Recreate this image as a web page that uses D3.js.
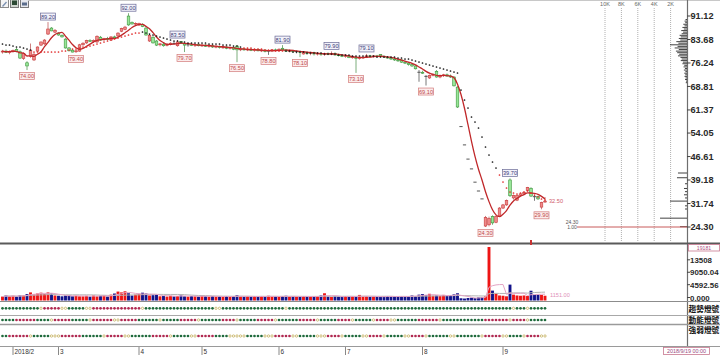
<!DOCTYPE html>
<html><head><meta charset="utf-8">
<script src="https://cdn.jsdelivr.net/npm/d3@7"></script>
<style>body{margin:0;background:#fff;overflow:hidden}svg{display:block;font-family:"Liberation Sans",Arial,sans-serif}</style>
</head><body><svg id="c" width="720" height="355"></svg>
<script>
// ---------- DATA ----------
const opens=[79.7,80.0,79.6,79.9,80.5,79.8,77.6,76.3,78.3,77.2,80.0,81.9,82.3,85.4,87.3,86.0,85.7,85.0,83.8,81.0,80.3,79.8,80.0,82.0,82.6,83.3,83.1,82.9,84.4,83.6,84.0,83.5,84.5,84.8,86.3,86.9,91.1,89.0,88.6,88.3,88.5,87.3,83.2,84.4,83.2,82.0,82.2,81.8,82.2,82.5,81.7,83.0,82.3,81.9,82.0,81.8,82.1,81.7,81.9,81.5,81.7,81.3,81.5,81.1,81.3,80.9,81.1,81.6,80.4,80.7,80.4,80.6,80.2,80.5,80.1,80.3,79.9,80.0,80.4,80.2,80.9,80.4,80.0,80.2,79.8,79.9,79.1,79.6,79.3,79.5,79.1,79.3,78.9,79.2,79.0,79.3,78.8,78.6,78.3,78.5,77.9,78.0,77.6,77.9,78.0,78.5,78.3,78.5,78.9,78.4,78.1,77.8,77.5,77.2,77.2,76.5,76.2,75.7,75.3,73.3,73.3,72.0,71.5,72.3,73.6,71.8,72.3,72.5,72.1,71.8,68.6,56.1,50.3,45.8,42.7,38.5,35.7,33.2,24.6,25.0,27.6,25.8,27.8,30.3,31.3,39.2,33.5,32.8,34.3,34.8,35.8,36.5,33.9,33.9,30.6,32.2];
const highs=[80.4,80.5,80.2,80.5,81.0,80.2,79.6,76.8,82.4,79.5,81.5,83.0,83.8,89.2,87.6,87.0,86.0,85.3,84.1,81.3,80.6,80.3,82.3,82.8,83.6,83.8,83.7,85.0,84.8,84.2,84.5,84.7,84.9,86.0,87.4,88.0,92.0,89.4,89.1,89.0,88.8,87.6,85.4,84.7,83.5,82.6,82.6,82.5,82.8,83.0,83.5,83.2,82.6,82.4,82.5,82.3,82.4,82.2,82.3,82.0,82.1,81.8,81.8,81.6,81.6,81.4,81.4,81.9,81.0,81.0,80.9,80.9,80.7,80.8,80.6,80.6,80.2,80.6,80.8,80.9,81.9,80.7,80.5,80.4,80.2,80.1,79.8,80.0,79.8,79.8,79.6,79.6,79.5,79.6,79.9,79.6,79.2,79.0,78.8,78.7,78.4,78.3,78.1,78.3,79.1,78.8,78.7,78.8,79.0,78.6,78.4,78.1,77.8,77.5,77.4,76.9,76.5,76.0,75.5,74.0,73.8,72.4,72.6,73.0,74.0,72.6,72.8,72.9,72.6,72.0,68.9,56.1,50.3,45.8,42.7,38.5,35.7,33.2,27.8,27.6,28.0,28.0,30.6,31.6,33.0,39.7,34.6,34.5,35.0,35.6,37.0,36.9,34.4,34.2,32.3,33.8];
const lows=[79.2,79.4,79.0,79.5,79.6,77.5,77.2,74.0,77.9,76.9,79.7,81.6,82.0,85.1,86.3,85.7,84.9,84.3,80.8,79.9,79.6,79.4,79.8,81.7,82.3,82.9,82.7,82.6,83.3,83.2,83.4,83.3,83.9,84.5,86.0,86.6,88.0,88.4,88.0,88.0,87.6,84.9,82.9,82.4,81.6,81.5,81.4,81.5,81.8,82.1,81.4,82.3,79.7,81.4,81.6,81.3,81.5,81.3,81.3,81.1,81.0,80.9,80.8,80.7,80.6,80.5,80.3,76.5,80.0,80.1,80.0,80.0,79.8,79.9,79.7,79.6,78.8,79.7,80.0,79.9,80.3,79.8,79.6,79.5,79.3,78.1,78.9,78.8,78.7,78.6,78.6,78.5,78.5,78.7,78.7,78.5,78.3,78.1,77.9,77.8,77.6,73.1,77.3,77.5,77.8,78.0,77.9,78.0,78.2,77.9,77.6,77.2,76.9,76.6,76.3,75.9,75.4,75.0,74.2,70.3,72.8,69.1,71.2,72.0,71.6,71.4,71.8,71.9,71.5,68.8,62.0,56.1,50.3,45.8,42.7,38.5,35.7,33.2,24.3,24.5,25.0,25.5,27.6,30.0,31.0,33.8,33.0,32.5,34.0,34.5,35.6,33.8,32.6,32.9,29.9,32.0];
const closes=[80.0,79.6,79.9,80.2,79.8,77.8,79.2,75.3,80.3,79.0,81.3,82.9,83.5,87.0,86.4,86.6,85.1,84.5,81.0,80.1,79.7,80.1,82.0,82.5,83.3,83.1,83.4,84.7,83.5,84.0,83.7,84.5,84.2,85.7,87.2,87.6,88.3,88.6,88.8,88.8,87.8,85.1,85.0,82.6,81.9,82.3,81.7,82.2,82.5,82.4,82.9,82.5,81.9,82.0,81.8,82.1,81.7,81.9,81.5,81.7,81.3,81.5,81.1,81.3,80.9,81.1,80.6,80.4,80.7,80.4,80.6,80.2,80.5,80.1,80.3,79.9,80.0,80.4,80.2,80.6,80.4,80.0,80.2,79.8,79.9,79.6,79.6,79.3,79.5,79.1,79.3,78.9,79.2,79.0,79.3,78.8,78.6,78.3,78.5,77.9,78.2,77.6,77.9,78.1,78.5,78.3,78.5,78.2,78.4,78.1,77.8,77.5,77.2,76.9,76.5,76.2,75.7,75.3,74.4,73.3,73.0,72.0,72.3,72.6,71.8,72.3,72.5,72.1,71.8,69.0,62.3,56.1,50.3,45.8,42.7,38.5,35.7,33.2,27.3,27.0,25.6,27.6,30.3,31.3,32.7,34.2,34.3,34.3,34.8,35.3,36.8,34.1,33.9,33.2,32.0,32.5];
const volumes=[1400,1800,1500,1700,1400,1900,1800,2300,2900,2200,2500,2800,2400,2900,2500,1800,1700,1500,1800,1900,1500,1700,1500,1500,1700,1400,1800,1500,1700,1800,1400,2100,2500,3200,2900,3300,2600,1800,2100,2400,2800,2500,1800,1900,2100,1500,1600,1400,1700,1500,1600,1800,1500,1400,1600,1500,1400,1700,1500,1400,1600,1400,1500,1300,1600,1400,1500,1900,1400,1300,1500,1400,1600,1300,1500,1400,1700,1500,1400,1300,1600,1700,1400,1500,1300,1400,1600,1500,1400,1300,1500,1800,2600,1400,1300,1500,1400,1300,1600,1400,1500,1300,2000,1400,1500,1300,1400,1500,1300,1400,1600,1500,1400,1300,1500,1600,1400,1800,1500,2100,2300,1900,2400,1700,1800,1600,2000,1700,1900,2200,2600,800,700,900,1000,900,1100,1200,1500,19181,3550,2500,1800,1700,1500,5700,2100,1800,1700,1800,1600,3500,2000,2100,2000,1700];
// dotted indicator line and its colour per bar: k=black, r=red
const dotVals=[82.25,81.93,81.93,81.62,81.30,81.30,80.98,80.67,80.35,
79.72,79.72,79.72,79.72,79.72,79.72,79.72,79.72,80.03,80.03,
80.35,80.67,80.67,80.98,81.30,81.30,81.62,81.93,82.25,82.57,82.88,83.20,83.52,83.83,84.15,84.47,84.78,85.10,
85.41,85.73,85.73,
86.05,85.73,85.41,85.10,84.78,84.47,84.15,83.83,83.52,83.20,83.20,82.88,82.88,82.57,82.57,82.57,82.57,82.57,82.57,82.25,82.25,82.25,82.25,81.93,81.93,81.93,81.62,81.62,81.30,
80.98,80.98,80.98,80.67,80.67,80.67,80.35,80.35,80.35,80.03,80.03,80.03,
80.03,80.03,79.72,79.72,79.72,79.72,79.40,79.40,79.40,79.40,79.40,79.08,79.08,79.08,79.08,78.77,78.77,78.77,78.77,78.45,
78.45,78.45,78.45,78.45,78.45,78.45,78.13,78.13,78.13,78.13,78.13,78.13,77.82,77.82,77.50,77.50,77.18,76.87,76.55,76.23,75.92,75.60,75.28,74.97,74.65,74.33,74.02,73.70,73.38,
73.07,
67.68,64.52,61.98,59.13,57.55,55.65,52.80,49.63,47.10,44.88,42.98,40.77,38.55,36.65,35.38,35.07,34.75,35.07,35.38,35.70,35.07,34.43,33.80,33.17,32.85];
const dotColor="kkkkkkkkk"+"rrrrrrrrrrrrrrrrrrrrrrrrrrrrrrr"+"kkkkkkkkkkkkkkkkkkkkkkkkkkkkk"+"rrrrrrrrrrrr"+"kkkkkkkkkkkkkkkkkkkkkkkkkkkkkkkkkkkkkkkkkkkkkkkkkkkkkkkkkkkkk"+"rrrrrrrrrrrrrr";
// signal-light rows: G=green, R=red, Y=hollow yellow
const lightTrend="GGGGGGGGGGG"+"Y"+"RRRRR"+"YY"+"GGGGG"+"YY"+"RRRRRRRRRRRRRR"+"Y"+"GGGGGGGGGGGGGGGGGGGG"+"YY"+"GGGGGGGGGGGGGGGGGG"+"Y"+"GGGGGGGGGGGGGGGGGGGGGGGGGGGGGGGGGGGGGGGGGGGGGGGGGGGGGGGGGGGGGGGG"+"Y"+"GGG"+"Y"+"GGGGG";
const lightMomentum="GGGGRRRRRRGGGGYRRRRRGGGGGYRRRRRRYYRRRRRGGGGGGYGGGGGRRRRRYGGGGGGRRRRYGGGGGRRRRRYGGGGGGRRRRRYGGGGGRRRRYGGGGGYRRRRYYGGGGGGRRRRRRYGGGGGGGGGGGGRRRRRRRYRRRRYGGGGG";
const lightStrength="GGRRRRRRYGGGGGYYYRRRRRRGGGGGGYRRRRRYYGGGGGGRRRRRYGGGGGYYRRRRRGGGGYYYYYGGGGGYYYRRRRRYYGGGGGYYYRRRRYGGGGGYYRRRRYGGGGGYYRRRRYGGGGGGYYGGGGGGGYRRRRRYYGGGGYRRRRYY";
const lightNames=["趨勢燈號","動能燈號","強弱燈號"];
// axes
const priceTicks=[91.12,83.68,76.24,68.81,61.37,54.05,46.61,39.18,31.74,24.30];
const volTicks=[13508,9050.04,4592.56,0];
const volTickLabels=["13508","9050.04","4592.56","0.000"];
const volMax=19181;
const monthIdx=[3,16,39,57,79,98,120,143];
const monthLabels=["2018/2","3","4","5","6","7","8","9"];
const highMarks=[13,36,50,80,94,104,145];
const lowMarks=[7,21,52,67,76,85,101,121,138,154];
// volume-at-price profile
const profPrice=[90.0,89.5,89.0,88.5,88.0,87.5,87.0,86.5,86.0,85.5,85.0,84.5,84.0,83.5,83.0,82.5,82.0,81.5,81.0,80.5,80.0,79.5,79.0,78.5,78.0,77.5,77.0,76.5,76.0,75.5,75.0,74.5,74.0,73.5,73.0,72.5,72.0,71.5,71.0,70.5,70.0,41.4,39.9,38.0,36.5,35.5,34.5,33.5,32.5,31.0,30.0,27.1,24.4];
const profVol=[180,300,220,450,300,560,380,700,480,650,900,760,1000,820,1300,1050,2074,1150,1500,1000,1350,1200,950,1100,800,650,760,500,560,330,420,250,380,200,330,220,300,180,240,120,150,1100,1220,244,366,244,366,244,2074,244,244,3290,854];
const profTicks=[10000,8000,6000,4000,2000];
const profTickLabels=["10K","8K","6K","4K","2K"];
const lowestPrice=24.30, lowestRatio="1.00";
const lastDate="2018/9/19 00:00";
const lastVolText="1151.00";

// ---------- CHART ----------
const N=closes.length;
const svg=d3.select("#c");
const x=d3.scaleLinear().domain([0,N-1]).range([2.5,545]);
const y=d3.scaleLinear().domain([24.30,91.12]).range([227,16]);
const yv=d3.scaleLinear().domain([0,volMax]).range([300.5,247]);
const xp=d3.scaleLinear().domain([0,10000]).range([687,605]);
const bars=d3.range(N).map(i=>({i,o:opens[i],h:highs[i],l:lows[i],c:closes[i],v:volumes[i]}));

const defs=svg.append("defs");
defs.append("clipPath").attr("id","cm").append("rect").attr("x",0).attr("y",1).attr("width",686.5).attr("height",241.5);

// top strip icons
const ic=svg.append("g");
ic.append("rect").attr("x",0.5).attr("y",-1).attr("width",8).attr("height",8.5).attr("fill","#f4f4f4").attr("stroke","#8a8a8a");
ic.append("path").attr("d","M2,6 L6,1.5 L7,2.5 L3,7 Z").attr("fill","#7a8fb0");
ic.append("rect").attr("x",10.5).attr("y",-1).attr("width",8).attr("height",8.5).attr("fill","#cfd6cf").attr("stroke","#7a7a7a");
ic.append("rect").attr("x",12).attr("y",0.5).attr("width",5).attr("height",4.5).attr("fill","#2c4a34");
ic.append("rect").attr("x",20.5).attr("y",-1).attr("width",8).attr("height",8.5).attr("fill","#e6e8ee").attr("stroke","#7a7a7a");
ic.append("rect").attr("x",22).attr("y",2.5).attr("width",5).attr("height",3).attr("fill","#5a6d8c");

// frame lines
const fr=svg.append("g").attr("fill","none");
fr.append("line").attr("x1",28).attr("x2",720).attr("y1",0.5).attr("y2",0.5).attr("stroke","#c8c8c8");
fr.append("line").attr("x1",687.5).attr("x2",687.5).attr("y1",0).attr("y2",346).attr("stroke","#6e6e6e").attr("stroke-width",1.2);
fr.append("line").attr("x1",0).attr("x2",720).attr("y1",243.5).attr("y2",243.5).attr("stroke","#5a5a5a").attr("stroke-width",2);
[[301.5,"#8c8c8c",1],[315.5,"#a8a8a8",1],[324.5,"#9a9a9a",1.6],[346.5,"#9a9a9a",1]].forEach(([yy,c,w])=>
  fr.append("line").attr("x1",0).attr("x2",720).attr("y1",yy).attr("y2",yy).attr("stroke",c).attr("stroke-width",w));

// profile grid lines
const pg=svg.append("g");
profTicks.forEach((t,k)=>{
  pg.append("line").attr("x1",xp(t)).attr("x2",xp(t)).attr("y1",8).attr("y2",243).attr("stroke","#b0b0b0").attr("stroke-dasharray","1,1");
  pg.append("text").attr("x",xp(t)).attr("y",6).attr("text-anchor","middle").attr("font-size",5.5).attr("fill","#666").text(profTickLabels[k]);
});
pg.selectAll("line.pf").data(profPrice).join("line").attr("class","pf")
  .attr("x1",687).attr("x2",(d,k)=>xp(profVol[k])).attr("y1",d=>y(d)).attr("y2",d=>y(d))
  .attr("stroke","#111").attr("stroke-width",0.8);

// lowest price line
svg.append("line").attr("x1",577).attr("x2",687).attr("y1",y(lowestPrice)).attr("y2",y(lowestPrice)).attr("stroke","#c85a5a").attr("stroke-width",1);
svg.append("text").attr("x",572).attr("y",y(lowestPrice)-3.5).attr("text-anchor","middle").attr("font-size",5).attr("fill","#555").text(lowestPrice.toFixed(2));
svg.append("text").attr("x",572).attr("y",y(lowestPrice)+1.5).attr("text-anchor","middle").attr("font-size",5).attr("fill","#555").text(lowestRatio);

// main plot
const g=svg.append("g").attr("clip-path","url(#cm)");
const isDoji=d=>Math.abs(d.c-d.o)<0.12;
const up=d=>d.c>d.o;
const stroke=d=>isDoji(d)?"#555":(up(d)?"#c83a3a":"#3a953a");
g.selectAll("line.wk").data(bars).join("line").attr("class","wk")
  .attr("x1",d=>x(d.i)).attr("x2",d=>x(d.i)).attr("y1",d=>y(d.h)).attr("y2",d=>y(d.l))
  .attr("stroke",d=>isDoji(d)?"#555":(up(d)?"#c06060":"#5a9a5a")).attr("stroke-width",0.8);
g.selectAll("rect.bd").data(bars.filter(d=>!isDoji(d))).join("rect").attr("class","bd")
  .attr("x",d=>x(d.i)-1.3).attr("width",2.6)
  .attr("y",d=>y(Math.max(d.o,d.c))).attr("height",d=>Math.max(0.8,Math.abs(y(d.o)-y(d.c))))
  .attr("fill",d=>up(d)?"#ee8a8a":"#98e698").attr("stroke",stroke).attr("stroke-width",0.6);
g.selectAll("line.dj").data(bars.filter(isDoji)).join("line").attr("class","dj")
  .attr("x1",d=>x(d.i)-1.6).attr("x2",d=>x(d.i)+1.6).attr("y1",d=>y(d.c)).attr("y2",d=>y(d.c))
  .attr("stroke","#555").attr("stroke-width",1);

// moving average (5 bars) of closes
const ma5=closes.map((c,i)=>d3.mean(closes.slice(Math.max(0,i-4),i+1)));
g.append("path").datum(ma5).attr("fill","none").attr("stroke","#c0282a").attr("stroke-width",1.3)
  .attr("d",d3.line().x((d,i)=>x(i)).y(d=>y(d)).curve(d3.curveMonotoneX));

// dotted indicator
g.selectAll("circle.dt").data(dotVals).join("circle").attr("class","dt")
  .attr("cx",(d,i)=>x(i)).attr("cy",d=>y(d)).attr("r",0.85)
  .attr("fill",(d,i)=>dotColor[i]==="r"?"#e02828":"#111");

// high / low marks
function mark(i,isHigh){
  const v=isHigh?highs[i]:lows[i];
  const txt=v.toFixed(2);
  const w=15,h=7;
  const cy=isHigh?y(v)-2-h/2:y(v)+2.5+h/2;
  const gg=g.append("g");
  gg.append("rect").attr("x",x(i)-w/2).attr("y",cy-h/2).attr("width",w).attr("height",h)
    .attr("fill",isHigh?"#f2f2fa":"#fbecec").attr("stroke",isHigh?"#6a6a96":"#d27a7a").attr("stroke-width",0.7);
  gg.append("text").attr("x",x(i)).attr("y",cy+2).attr("text-anchor","middle").attr("font-size",5.6)
    .attr("fill",isHigh?"#3c3c78":"#c04848").text(txt);
}
highMarks.forEach(i=>mark(i,true));
lowMarks.forEach(i=>mark(i,false));
g.append("text").attr("x",x(N-1)+4).attr("y",y(closes[N-1])+2).attr("font-size",5.6).attr("fill","#d05a6a").text(closes[N-1].toFixed(2));

// price axis
const pa=svg.append("g");
priceTicks.forEach(t=>{
  pa.append("line").attr("x1",687).attr("x2",690.5).attr("y1",y(t)).attr("y2",y(t)).attr("stroke","#444");
  pa.append("text").attr("x",690.5).attr("y",y(t)+3.3).attr("font-size",9.2).attr("font-weight","bold").attr("fill","#2a2a2a").text(t.toFixed(2));
});
svg.append("rect").attr("x",x(151)-1).attr("y",240).attr("width",2).attr("height",5).attr("fill","#c83232");

// volume
const vg=svg.append("g");
const down=(d)=>d.c<d.o||(d.c===d.o&&d.i>0&&d.c<closes[d.i-1]);
vg.selectAll("rect.vb").data(bars).join("rect").attr("class","vb")
  .attr("x",d=>x(d.i)-1.45).attr("width",2.9).attr("y",d=>yv(d.v)).attr("height",d=>yv(0)-yv(d.v))
  .attr("fill",d=>down(d)?"#12128a":"#ee1414");
const vma=(n)=>volumes.map((v,i)=>d3.mean(volumes.slice(Math.max(0,i-n+1),i+1)));
vg.append("path").datum(vma(20)).attr("fill","none").attr("stroke","#b4b4b4").attr("stroke-width",1)
  .attr("d",d3.line().x((d,i)=>x(i)).y(d=>yv(d)));
vg.append("path").datum(vma(5)).attr("fill","none").attr("stroke","#e4a4c4").attr("stroke-width",1)
  .attr("d",d3.line().x((d,i)=>x(i)).y(d=>yv(d)));
vg.append("text").attr("x",x(N-1)+5).attr("y",yv(0)-4).attr("font-size",5.6).attr("fill","#e090b8").text(lastVolText);
volTicks.forEach((t,k)=>{
  vg.append("line").attr("x1",687).attr("x2",690).attr("y1",yv(t)-3).attr("y2",yv(t)-3).attr("stroke","#444");
  vg.append("text").attr("x",690).attr("y",yv(t)).attr("font-size",7.9).attr("font-weight","bold").attr("fill","#2a2a2a").text(volTickLabels[k]);
});
vg.append("rect").attr("x",688.5).attr("y",244.5).attr("width",31).attr("height",6.5).attr("fill","#fff").attr("stroke","#c87890").attr("stroke-width",0.8);
vg.append("text").attr("x",704).attr("y",249.8).attr("text-anchor","middle").attr("font-size",5.2).attr("fill","#b05080").text(String(volMax));

// signal lights
const lightRows=[lightTrend,lightMomentum,lightStrength];
const rowY=[308.3,320,336];
const nameY=[311.5,323.3,333];
lightRows.forEach((row,r)=>{
  const lg=svg.append("g");
  lg.selectAll("circle").data(row.split("")).join("circle")
    .attr("cx",(d,i)=>x(i)).attr("cy",rowY[r]).attr("r",d=>d==="Y"?1.15:1.35)
    .attr("fill",d=>d==="G"?"#1f6a3c":d==="R"?"#b02a52":"#fff")
    .attr("stroke",d=>d==="Y"?"#c4b060":"none").attr("stroke-width",0.8);
  svg.append("text").attr("x",688.5).attr("y",nameY[r]).attr("font-size",7.7)
    .attr("font-family","'Noto Sans CJK TC',sans-serif").attr("font-weight","bold").attr("fill","#111").text(lightNames[r]);
});

// time axis
monthIdx.forEach((m,k)=>{
  svg.append("line").attr("x1",x(m)).attr("x2",x(m)).attr("y1",347).attr("y2",355).attr("stroke","#888");
  svg.append("text").attr("x",x(m)+1.5).attr("y",353.5).attr("font-size",6.4).attr("fill","#333").text(monthLabels[k]);
});
svg.append("rect").attr("x",663.5).attr("y",347.5).attr("width",46).attr("height",7).attr("fill","#fff").attr("stroke","#c87890").attr("stroke-width",0.8);
svg.append("text").attr("x",686.5).attr("y",353).attr("text-anchor","middle").attr("font-size",5.4).attr("fill","#9a4a80").text(lastDate);
</script></body></html>
